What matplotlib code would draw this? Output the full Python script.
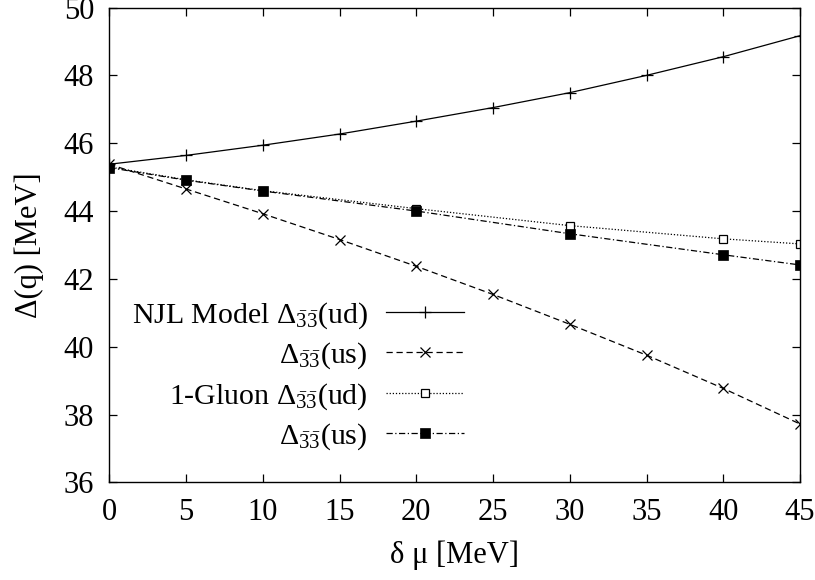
import matplotlib
matplotlib.use("Agg")
import matplotlib.pyplot as plt

plt.rcParams['font.family'] = ['Liberation Serif', 'DejaVu Serif']
plt.rcParams['mathtext.fontset'] = 'custom'
plt.rcParams['mathtext.rm'] = 'Liberation Serif'
plt.rcParams['mathtext.it'] = 'Liberation Serif:italic'
plt.rcParams['mathtext.bf'] = 'Liberation Serif:bold'

# data
mu_njl = [0, 5, 10, 15, 20, 25, 30, 35, 40, 45]
njl_ud = [45.38, 45.64, 45.94, 46.27, 46.65, 47.05, 47.49, 48.00, 48.55, 49.17]
njl_us = [45.38, 44.65, 43.92, 43.16, 42.37, 41.54, 40.66, 39.75, 38.77, 37.72]

mu_gluon = [0, 5, 10, 20, 30, 40, 45]
gluon_ud = [45.30, 44.92, 44.60, 44.07, 43.57, 43.18, 43.03]
gluon_us = [45.28, 44.91, 44.59, 44.00, 43.33, 42.71, 42.41]

labels = [r"NJL Model Δ$_{\bar{3}\bar{3}}$(ud)",
          r"Δ$_{\bar{3}\bar{3}}$(us)",
          r"1-Gluon Δ$_{\bar{3}\bar{3}}$(ud)",
          r"Δ$_{\bar{3}\bar{3}}$(us)"]

xticks = [0, 5, 10, 15, 20, 25, 30, 35, 40, 45]
yticks = [36, 38, 40, 42, 44, 46, 48, 50]

fs = 22

fig = plt.figure(figsize=(8.15, 5.8), dpi=100)
ax = fig.add_axes([0.1341, 0.1684, 0.9816 - 0.1341, 0.987 - 0.1684])

lw = 0.9
ax.plot(mu_njl, njl_ud, color='black', lw=lw, ls='-', marker='+', ms=8, mew=0.9, label=labels[0])
ax.plot(mu_njl, njl_us, color='black', lw=lw, ls=(0, (5, 3)), marker='x', ms=6.5, mew=0.9, label=labels[1])
ax.plot(mu_gluon, gluon_ud, color='black', lw=lw, ls=(0, (1, 1.5)), marker='s', ms=5.5, mew=0.9,
        mfc='white', mec='black', label=labels[2])
ax.plot(mu_gluon, gluon_us, color='black', lw=lw, ls=(0, (5, 2, 1, 2)), marker='s', ms=7, mew=0.5,
        mfc='black', mec='black', label=labels[3])

ax.set_xlim(0, 45)
ax.set_ylim(36, 50)
ax.set_xticks(xticks)
ax.set_yticks(yticks)
ax.tick_params(direction='in', length=6, width=0.9, top=True, right=True,
               labelsize=fs, pad=11)
for s in ax.spines.values():
    s.set_linewidth(1.0)

ax.set_xlabel("δ μ [MeV]", fontsize=fs, labelpad=10)
ax.set_ylabel("Δ(q) [MeV]", fontsize=fs, labelpad=14)

leg = ax.legend(loc='center right', bbox_to_anchor=(0.5135, 0.224), frameon=False,
                markerfirst=False, fontsize=21.5, handlelength=2.6, handletextpad=0.62,
                labelspacing=0.33, borderpad=0, borderaxespad=0, numpoints=1)

fig.savefig("out.png", dpi=100)
